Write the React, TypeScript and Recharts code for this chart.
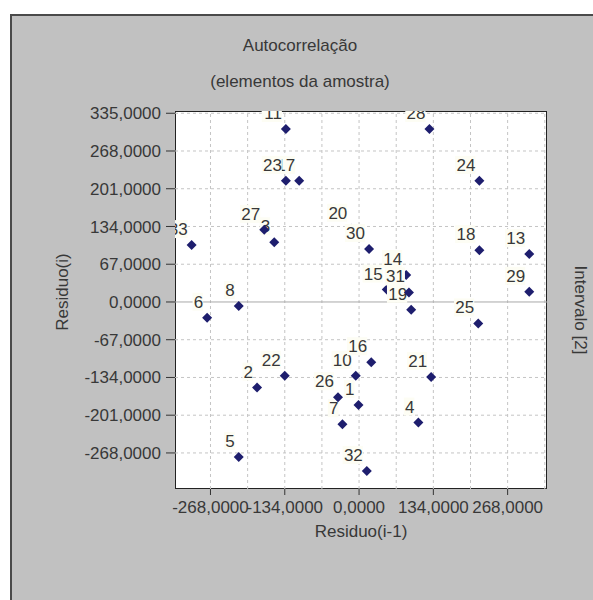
import React from 'react';
import { ScatterChart, Scatter, XAxis, YAxis, ReferenceLine } from 'recharts';

// point labels (order of drawing)
const pointNames = ['1','2','3','4','5','6','7','8','10','11','13','14','15','16','17','18','19','20','21','22','23','24','25','26','27','28','29','30','31','32','33'];
// Residuo(i-1)
const residPrev = [-1,-184,-153,107,-217,-274,-30,-217,-6,-132,307,85,50,22,-108,217,94,-14,130,-134,-132,217,215,-38,-171,127,307,18,90,14,-302];
// Residuo(i)
const resid = [-183,-152,106,-214,-275,-28,-217,-7,-131,307,85,48,22,-107,215,92,-14,130,-133,-131,215,215,-38,-169,128,307,18,94,17,-300,101];

const yTicks = [335, 268, 201, 134, 67, 0, -67, -134, -201, -268];
const xTicks = [-268, -134, 0, 134, 268];
const gridValues = [-335, -268, -201, -134, -67, 67, 134, 201, 268, 335];
const axisDomain: [number, number] = [-332, 339];

const data = pointNames.map((name, i) => ({ name, x: residPrev[i], y: resid[i] }));

const W = 593;
const H = 600;
const MARGIN = { top: 111, right: 46, bottom: 60, left: 0 };
const Y_AXIS_W = 175;
const X_AXIS_H = 51;
const PLOT_L = MARGIN.left + Y_AXIS_W;
const PLOT_T = MARGIN.top;
const PLOT_W = W - MARGIN.right - PLOT_L;
const PLOT_H = H - MARGIN.bottom - X_AXIS_H - PLOT_T;

const FONT = '"Liberation Sans", Arial, sans-serif';
const TEXT = '#383838';
const fmt = (v: number) => v.toFixed(4).replace('.', ',');

const PointShape = (props: any) => {
  const { cx, cy, payload } = props;
  if (cx == null || cy == null) return null;
  const label = String(payload.name);
  const w = label.length * 9.6 + 1;
  const rx = cx - 4;
  const by = cy - 10;
  return (
    <g>
      <defs>
        <clipPath id="plot-clip">
          <rect x={PLOT_L} y={PLOT_T} width={PLOT_W} height={PLOT_H} />
        </clipPath>
      </defs>
      <path d={`M${cx},${cy - 5}L${cx + 5},${cy}L${cx},${cy + 5}L${cx - 5},${cy}Z`} fill="#1e1e6e" />
      <g clipPath="url(#plot-clip)">
        <rect x={rx - w} y={by - 15} width={w} height={18} fill="#fdfdf4" />
        <text x={rx} y={by} textAnchor="end" fontSize={17} fill={TEXT} fontFamily={FONT}>
          {label}
        </text>
      </g>
    </g>
  );
};

const tickStyle = { fontSize: 17, fill: TEXT, fontFamily: FONT };

export default function App() {
  return (
    <div style={{ position: 'absolute', left: 0, top: 0, width: W, height: H, background: '#fff', overflow: 'hidden', fontFamily: FONT }}>
      <div style={{ position: 'absolute', left: 10, top: 14, width: W, height: H, background: '#c1c1c1', borderLeft: '2px solid #4a4a4a', borderTop: '2px solid #4a4a4a' }} />
      <div style={{ position: 'absolute', left: PLOT_L, top: PLOT_T, width: PLOT_W, height: PLOT_H, background: '#fff', boxSizing: 'border-box', border: '1px solid #222' }} />
      <div style={{ position: 'absolute', left: 0, width: 600, top: 35, textAlign: 'center', fontSize: 17, color: TEXT, lineHeight: '22px' }}>Autocorrelação</div>
      <div style={{ position: 'absolute', left: 0, width: 600, top: 71, textAlign: 'center', fontSize: 17, color: TEXT, lineHeight: '22px' }}>(elementos da amostra)</div>
      <div style={{ position: 'absolute', left: PLOT_L, width: PLOT_W, top: 521, textAlign: 'center', fontSize: 17, color: TEXT, lineHeight: '22px' }}>Residuo(i-1)</div>
      <div style={{ position: 'absolute', left: 63 - 60, top: 292 - 11, width: 120, textAlign: 'center', fontSize: 17, color: TEXT, lineHeight: '22px', transform: 'rotate(-90deg)' }}>Residuo(i)</div>
      <div style={{ position: 'absolute', left: 580 - 70, top: 310 - 11, width: 140, textAlign: 'center', fontSize: 17, color: TEXT, lineHeight: '22px', transform: 'rotate(90deg)' }}>Intervalo [2]</div>
      <div style={{ position: 'absolute', left: 0, top: 0 }}>
        <ScatterChart width={W} height={H} margin={MARGIN}>
          {gridValues.map((v) => (
            <ReferenceLine key={`h${v}`} y={v} stroke="#c4c4c4" strokeDasharray="3 3" />
          ))}
          {gridValues.map((v) => (
            <ReferenceLine key={`v${v}`} x={v} stroke="#c4c4c4" strokeDasharray="3 3" />
          ))}
          <ReferenceLine x={0} stroke="#c4c4c4" strokeDasharray="3 3" />
          <ReferenceLine y={0} stroke="#a8a8a8" />
          <XAxis
            type="number"
            dataKey="x"
            domain={axisDomain}
            allowDataOverflow
            ticks={xTicks}
            interval={0}
            tickFormatter={fmt}
            height={X_AXIS_H}
            axisLine={false}
            tickLine={{ stroke: '#333' }}
            tickSize={6}
            tickMargin={6}
            tick={tickStyle}
          />
          <YAxis
            type="number"
            dataKey="y"
            domain={axisDomain}
            allowDataOverflow
            ticks={yTicks}
            interval={0}
            tickFormatter={fmt}
            width={Y_AXIS_W}
            axisLine={false}
            tickLine={{ stroke: '#333' }}
            tickSize={9}
            tickMargin={5}
            tick={tickStyle}
          />
          <Scatter data={data} shape={PointShape} isAnimationActive={false} />
        </ScatterChart>
      </div>
    </div>
  );
}
